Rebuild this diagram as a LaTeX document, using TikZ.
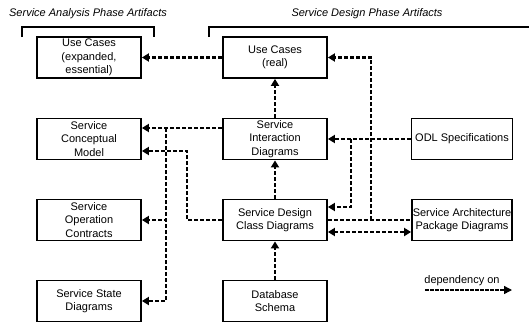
\documentclass[tikz,border=0pt]{standalone}
\usepackage{fontspec}
\setmainfont{Liberation Sans}
\usetikzlibrary{arrows.meta,calc}

\tikzset{every picture/.style={line width=0.9pt}}
\tikzset{
  artifact/.style={draw, line width=1.8pt, minimum width=104pt, minimum height=41pt,
    inner sep=0pt, align=center, font=\fontsize{11}{13.5}\selectfont},
  depline/.style={line width=2.4pt, dash pattern=on 4pt off 2pt},
  dep/.style={depline, -{Triangle[length=7pt,width=8pt]}},
  depboth/.style={depline, {Triangle[length=7pt,width=8pt]}-{Triangle[length=7pt,width=8pt]}},
  deplegend/.style={line width=1.4pt, dash pattern=on 3.5pt off 1.5pt, -{Triangle[length=8pt,width=8pt]}},
  phasebracket/.style={line width=1.8pt},
  phaselabel/.style={font=\fontsize{11}{13}\selectfont\itshape},
  legendtext/.style={font=\fontsize{11}{13}\selectfont},
}

\begin{document}
\begin{tikzpicture}[x=1pt,y=1pt,yscale=-1]
\useasboundingbox (0,0) rectangle (529,322);

% Phase labels
\node[phaselabel] (hana) at (88,14) {Service Analysis Phase Artifacts};
\node[phaselabel] (hdes) at (367,14) {Service Design Phase Artifacts};
%Brackets
\draw[phasebracket] (22,37) -- (22,27) -- (154,27) -- (154,37);
\draw[phasebracket] (209,37) -- (209,27) -- (529,27);

% Analysis artifacts
\node[artifact] (uce) at (89,57.5) {Use Cases\\(expanded,\\essential)};
\node[artifact] (scm) at (89,139) {Service\\Conceptual\\Model};
\node[artifact] (soc) at (89,220) {Service\\Operation\\Contracts};
\node[artifact] (ssd) at (89,301) {Service State\\Diagrams};
% Design artifacts
\node[artifact] (ucr) at (275,57.5) {Use Cases\\(real)};
\node[artifact] (sid) at (275,139) {Service\\Interaction\\Diagrams};
\node[artifact] (sdcd) at (275,220) {Service Design\\Class Diagrams};
\node[artifact] (dbs) at (275,301) {Database\\Schema};
\node[artifact, minimum width=101pt] (odl) at (462,139) {ODL Specifications};
\node[artifact, minimum width=100pt] (sapd) at (462,220) {Service Architecture\\Package Diagrams};

%Straight Lines
\draw[dep] (ucr.west) -- (uce.east);
\draw[dep] (sid.north) -- (ucr.south);
\draw[dep] (sdcd.north) -- (sid.south);
\draw[dep] (dbs.north) -- (sdcd.south);
%Class and package diagrams to real use cases
\draw[depline] (sdcd.east) -- (sapd.west);
\coordinate (jreal) at ($(sdcd.east)!0.52!(sapd.west)$);
\draw[dep] (jreal) |- (ucr.east);
%ODL specifications
\draw[dep] (odl.west) -- (sid.east);
\coordinate (jodl) at ($(sid.east)!0.28!(odl.west)$);
\draw[dep] (jodl) |- ([yshift=-13pt]sdcd.east);
\draw[depboth] ([yshift=12pt]sdcd.east) -- ([yshift=12pt]sapd.west);
%Interaction diagrams to analysis artifacts
\draw[dep] ([yshift=-11pt]sid.west) -- ([yshift=-11pt]scm.east);
\coordinate (jsid) at ($([yshift=-11pt]scm.east)!0.3!([yshift=-11pt]sid.west)$);
\draw[dep] (jsid) |- (soc.east);
\draw[dep] (jsid) |- (ssd.east);
\draw[dep] (sdcd.west) -- ++(-35,0) |- ([yshift=12pt]scm.east);

% Legend
\node[legendtext] (legtxt) at (462,281) {dependency on};
\coordinate (legstart) at (425,290);
\coordinate (legto) at (512,290);
\draw[deplegend] (legstart) -- (legto);

\end{tikzpicture}
\end{document}
